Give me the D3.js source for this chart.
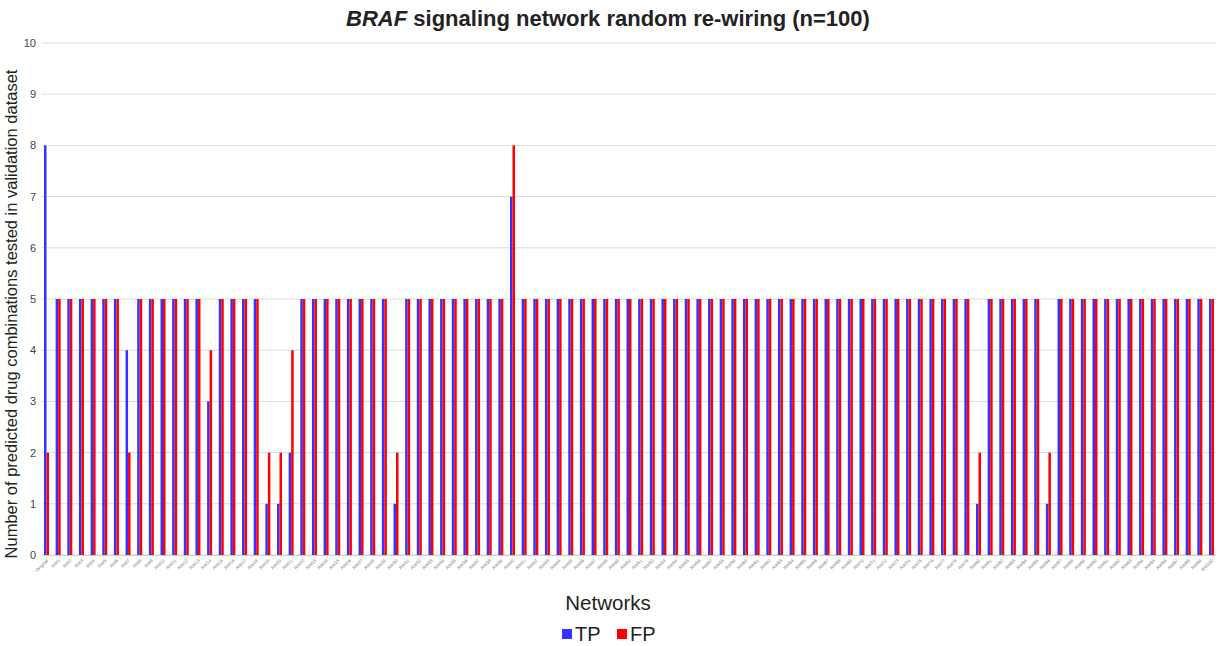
<!DOCTYPE html>
<html><head><meta charset="utf-8">
<script src="https://cdn.jsdelivr.net/npm/d3@7"></script>
<style>body{margin:0;background:#fff;font-family:Arial,"Liberation Sans",sans-serif;}</style>
</head><body>
<svg id="c" width="1218" height="646"></svg>
<script>
const categories = ["Original"].concat(d3.range(1, 101).map(i => "RW" + i));
const seriesNames = ["TP", "FP"];
const colors = ["#3333ff", "#ff0000"];
const tpValues = [8,5,5,5,5,5,5,4,5,5, 5,5,5,5,3,5,5,5,5,1, 1,2,5,5,5,5,5,5,5,5, 1,5,5,5,5,5,5,5,5,5, 7,5,5,5,5,5,5,5,5,5, 5,5,5,5,5,5,5,5,5,5, 5,5,5,5,5,5,5,5,5,5, 5,5,5,5,5,5,5,5,5,5, 1,5,5,5,5,5,1,5,5,5, 5,5,5,5,5,5,5,5,5,5, 5];
const fpValues = [2,5,5,5,5,5,5,2,5,5, 5,5,5,5,4,5,5,5,5,2, 2,4,5,5,5,5,5,5,5,5, 2,5,5,5,5,5,5,5,5,5, 8,5,5,5,5,5,5,5,5,5, 5,5,5,5,5,5,5,5,5,5, 5,5,5,5,5,5,5,5,5,5, 5,5,5,5,5,5,5,5,5,5, 2,5,5,5,5,5,2,5,5,5, 5,5,5,5,5,5,5,5,5,5, 5];
const yTicks = [0,1,2,3,4,5,6,7,8,9,10];

(function () {
const svg = d3.select("#c");
const pLeft = 44, pTop = 43, pBottom = 555, pRight = 1216;
const x = d3.scaleBand().domain(categories).range([pLeft, 1214]).paddingInner(0.57).paddingOuter(0).align(0);
const xs = d3.scaleBand().domain(seriesNames).range([0, x.bandwidth()]);
const y = d3.scaleLinear().domain([0, 10]).range([pBottom, pTop]);

svg.append("g").selectAll("line").data(yTicks).join("line")
  .attr("x1", 42).attr("x2", pRight).attr("y1", d => y(d)).attr("y2", d => y(d))
  .attr("stroke", "#dcdcdc").attr("stroke-width", 1);

const ya = svg.append("g").attr("transform", `translate(40,0)`)
  .call(d3.axisLeft(y).tickValues(yTicks).tickSize(0).tickPadding(4));
ya.select(".domain").remove();
ya.selectAll("text").attr("font-size", 11).attr("fill", "#444").attr("font-family", "Arial, Liberation Sans, sans-serif");

const data = categories.map((c, i) => ({c, vals: [tpValues[i], fpValues[i]]}));
const g = svg.append("g");
data.forEach(d => {
  d.vals.forEach((v, j) => {
    g.append("rect")
      .attr("x", x(d.c) + xs(seriesNames[j]))
      .attr("width", xs.bandwidth())
      .attr("y", y(v)).attr("height", y(0) - y(v))
      .attr("fill", colors[j]);
  });
});

svg.append("line").attr("x1", 42).attr("x2", pRight).attr("y1", pBottom + 0.5).attr("y2", pBottom + 0.5).attr("stroke", "#ccc");

const xa = svg.append("g").attr("transform", `translate(0,${pBottom})`)
  .call(d3.axisBottom(x).tickSize(0).tickPadding(0));
xa.select(".domain").remove();
xa.selectAll(".tick").attr("transform", d => `translate(${x(d) + x.bandwidth() / 2},0)`);
xa.selectAll("text")
  .attr("font-size", 4.5).attr("fill", "#777").attr("font-family", "Arial, Liberation Sans, sans-serif")
  .attr("text-anchor", "end").attr("dy", null).attr("y", 0)
  .attr("transform", "translate(2,6) rotate(-45)");

const t = svg.append("text").attr("x", 608).attr("y", 26).attr("text-anchor", "middle")
  .attr("font-size", 22).attr("font-weight", "bold").attr("fill", "#222");
t.append("tspan").attr("font-style", "italic").text("BRAF");
t.append("tspan").text(" signaling network random re-wiring (n=100)");

svg.append("text").attr("transform", "translate(17,314) rotate(-90)").attr("text-anchor", "middle")
  .attr("font-size", 16.5).attr("fill", "#222").text("Number of predicted drug combinations tested in validation dataset");

svg.append("text").attr("x", 608).attr("y", 610).attr("text-anchor", "middle")
  .attr("font-size", 20.5).attr("fill", "#222").text("Networks");

const leg = svg.append("g");
const legX = [562, 617];
seriesNames.forEach((s, i) => {
  leg.append("rect").attr("x", legX[i]).attr("y", 629).attr("width", 10).attr("height", 10).attr("fill", colors[i]);
  leg.append("text").attr("x", legX[i] + 13).attr("y", 641).attr("font-size", 20).attr("fill", "#222").text(s);
});
})();
</script>
</body></html>
